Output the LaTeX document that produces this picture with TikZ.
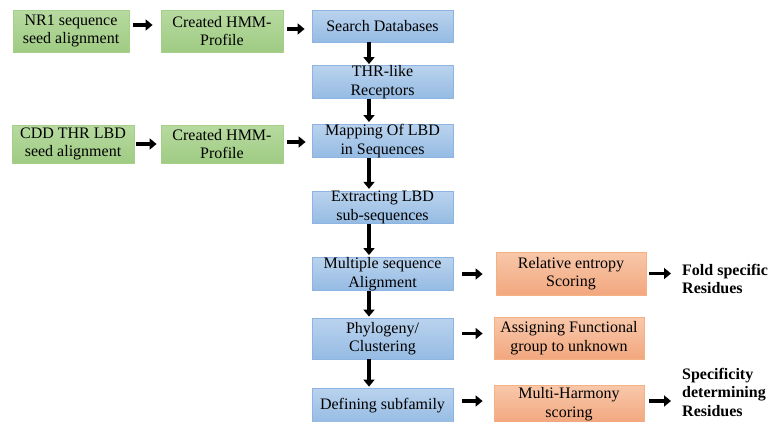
\documentclass[tikz,border=0pt]{standalone}
\usepackage{fontspec}
\setmainfont{Liberation Serif}
\usetikzlibrary{arrows.meta,shadings}
\definecolor{gTop}{HTML}{B7DAA0}
\definecolor{gBot}{HTML}{9FCB83}
\definecolor{gLine}{HTML}{A6D08A}
\definecolor{bTop}{HTML}{BAD3EE}
\definecolor{bBot}{HTML}{95BBE3}
\definecolor{bLine}{HTML}{8EB4E3}
\definecolor{oTop}{HTML}{F8C8AA}
\definecolor{oBot}{HTML}{F2A77F}
\definecolor{oLine}{HTML}{F4B183}
\tikzset{
  box/.style={rectangle, inner sep=0pt, align=center, font=\fontsize{16}{18.5}\selectfont, line width=0.8pt},
  gbox/.style={box, draw=gLine, top color=gTop, bottom color=gBot},
  bbox/.style={box, draw=bLine, top color=bTop, bottom color=bBot},
  obox/.style={box, draw=oLine, top color=oTop, bottom color=oBot},
  outtxt/.style={inner sep=0pt, anchor=west, align=left, font=\fontsize{16}{18.5}\selectfont\bfseries},
  arr/.style={line width=3.4pt, -{Triangle[length=7pt,width=11pt]}},
}
\begin{document}
\begin{tikzpicture}[x=1pt,y=-1pt]
\useasboundingbox (0,0) rectangle (769,421);
% left column
\node[gbox, minimum width=116pt, minimum height=42pt] (g1) at (71,31) {NR1 sequence\\seed alignment};
\node[gbox, minimum width=122pt, minimum height=42pt] (g2) at (222,31) {Created HMM-\\Profile};
\node[gbox, minimum width=122pt, minimum height=38pt] (g3) at (73,144) {CDD THR LBD\\seed alignment};
\node[gbox, minimum width=122pt, minimum height=38pt] (g4) at (222,144) {Created HMM-\\Profile};
% blue column
\node[bbox, minimum width=141pt, minimum height=32pt] (b1) at (382.5,26) {Search Databases};
\node[bbox, minimum width=141pt, minimum height=32pt] (b2) at (382.5,82) {THR-like\\Receptors};
\node[bbox, minimum width=141pt, minimum height=32pt] (b3) at (382.5,141) {Mapping Of LBD\\in Sequences};
\node[bbox, minimum width=141pt, minimum height=31pt] (b4) at (382.5,207.5) {Extracting LBD\\sub-sequences};
\node[bbox, minimum width=141pt, minimum height=32pt] (b5) at (382.5,274) {Multiple sequence\\Alignment};
\node[bbox, minimum width=141pt, minimum height=41pt] (b6) at (382.5,338.5) {Phylogeny/\\Clustering};
\node[bbox, minimum width=141pt, minimum height=36pt] (b7) at (382.5,406) {Defining subfamily};
% orange column
\node[obox, minimum width=150pt, minimum height=43pt] (o1) at (571,273.5) {Relative entropy\\Scoring};
\node[obox, minimum width=150pt, minimum height=42pt] (o2) at (569,338) {Assigning Functional\\group to unknown};
\node[obox, minimum width=150pt, minimum height=38pt] (o3) at (569,404) {Multi-Harmony\\scoring};
% outputs
\node[outtxt] (t1) at (682,279) {Fold specific\\Residues};
\node[outtxt] (t2) at (682,392) {Specificity\\determining\\Residues};
% vertical axis
\coordinate (vx) at (369,0);
% horizontal arrows
\draw[arr] ([xshift=4pt,yshift=6pt]g1.east) -- ([xshift=-8pt,yshift=6pt]g2.west);
\draw[arr] ([xshift=4pt,yshift=2pt]g2.east) -- ([xshift=-7pt,yshift=2pt]g2.east -| b1.west);
\draw[arr] ([xshift=2pt]g3.east) -- ([xshift=-4pt]g4.west);
\draw[arr] ([xshift=4pt,yshift=2pt]g4.east) -- ([xshift=-6pt,yshift=2pt]g4.east -| b3.west);
\draw[arr] ([xshift=9pt]b5.east) -- ([xshift=-13pt]b5.east -| o1.west);
\draw[arr] ([xshift=9pt,yshift=5pt]b6.east) -- ([xshift=-11pt,yshift=5pt]b6.east -| o2.west);
\draw[arr] ([xshift=9pt,yshift=3pt]o3.west -| b7.east) -- ([xshift=-11pt,yshift=3pt]o3.west);
\draw[arr] ([xshift=3pt]o1.east) -- ([xshift=-11pt]o1.east -| t1.west);
\draw[arr] ([xshift=5pt,yshift=3pt]o3.east) -- ([xshift=-11pt,yshift=3pt]o3.east -| t2.west);
% vertical arrows
\draw[arr] (b1.south -| vx) -- ([yshift=1pt]b2.north -| vx);
\draw[arr] (b2.south -| vx) -- ([yshift=2pt]b3.north -| vx);
\draw[arr] (b3.south -| vx) -- ([yshift=2pt]b4.north -| vx);
\draw[arr] (b4.south -| vx) -- ([yshift=2pt]b5.north -| vx);
\draw[arr] (b5.south -| vx) -- ([yshift=1pt]b6.north -| vx);
\draw[arr] (b6.south -| vx) -- ([yshift=1pt]b7.north -| vx);
\end{tikzpicture}
\end{document}
